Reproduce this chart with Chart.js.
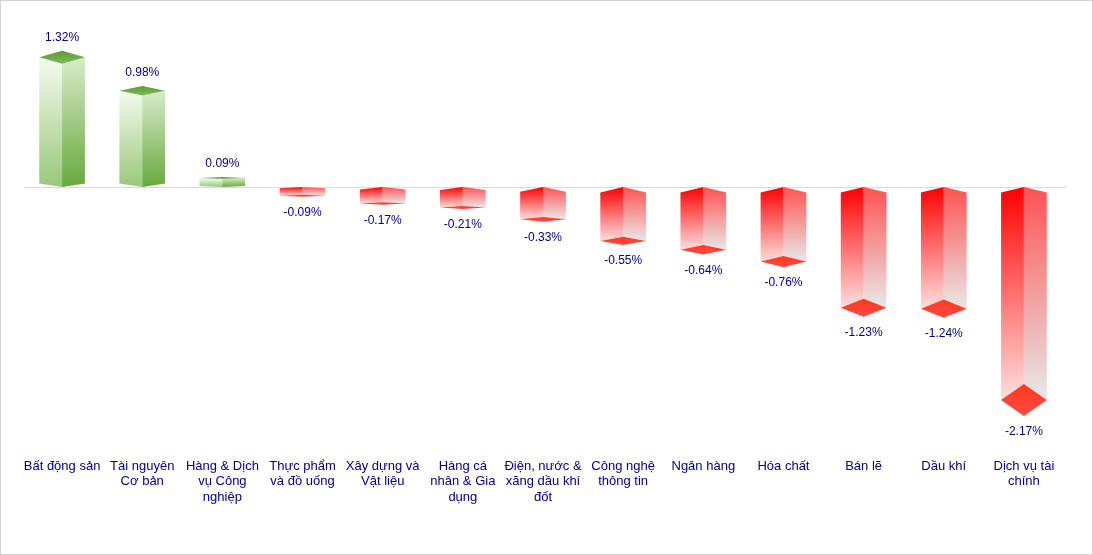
<!DOCTYPE html>
<html>
<head>
<meta charset="utf-8">
<script src="https://cdn.jsdelivr.net/npm/chart.js@4.4.0/dist/chart.umd.min.js"></script>
<style>
  body { margin: 0; background: #fff; }
  #wrap { width: 1093px; height: 555px; }
</style>
</head>
<body>
<div id="wrap"><canvas id="chart" width="1093" height="555"></canvas></div>
<script>
// sector names (multi-line as in the picture)
var categories = [
    'Bất động sản',
    ['Tài nguyên', 'Cơ bản'],
    ['Hàng & Dịch', 'vụ Công', 'nghiệp'],
    ['Thực phẩm', 'và đồ uống'],
    ['Xây dựng và', 'Vật liệu'],
    ['Hàng cá', 'nhân & Gia', 'dụng'],
    ['Điện, nước &', 'xăng dầu khí', 'đốt'],
    ['Công nghệ', 'thông tin'],
    'Ngân hàng',
    'Hóa chất',
    'Bán lẽ',
    'Dầu khí',
    ['Dịch vụ tài', 'chính']
];
// % change
var values = [1.32, 0.98, 0.09, -0.09, -0.17, -0.21, -0.33, -0.55, -0.64, -0.76, -1.23, -1.24, -2.17];

function poly(ctx, pts, fill) {
    ctx.beginPath();
    ctx.moveTo(pts[0][0], pts[0][1]);
    for (var i = 1; i < pts.length; i++) ctx.lineTo(pts[i][0], pts[i][1]);
    ctx.closePath();
    ctx.fillStyle = fill;
    ctx.fill();
}

function grad(ctx, y0, y1, c0, c1) {
    var g = ctx.createLinearGradient(0, y0, 0, y1);
    g.addColorStop(0, c0);
    g.addColorStop(1, c1);
    return g;
}

// draws the frame, the zero line and the 3d looking bars on top of the (invisible) library bars
var bars3d = {
    id: 'bars3d',
    beforeDraw: function(chart) {
        var ctx = chart.ctx;
        ctx.save();
        ctx.strokeStyle = '#d4d4d4';
        ctx.lineWidth = 1;
        ctx.strokeRect(0.5, 0.5, chart.width - 1, chart.height - 1);
        var y0 = Math.round(chart.scales.y.getPixelForValue(0)) + 0.5;
        ctx.strokeStyle = '#d9d9d9';
        ctx.beginPath();
        ctx.moveTo(chart.chartArea.left + 2, y0);
        ctx.lineTo(chart.chartArea.right + 2, y0);
        ctx.stroke();
        ctx.restore();
    },
    afterDatasetsDraw: function(chart) {
        var ctx = chart.ctx;
        var meta = chart.getDatasetMeta(0);
        ctx.save();
        meta.data.forEach(function(bar, i) {
            var v = values[i];
            var x0 = bar.x - bar.width / 2, x1 = bar.x + bar.width / 2, xc = bar.x;
            var zero = bar.base, end = bar.y;
            var hgt = Math.abs(zero - end);
            var label = v.toFixed(2) + '%';
            ctx.font = '12px "Liberation Sans", Arial, sans-serif';
            ctx.textAlign = 'center';
            ctx.textBaseline = 'middle';
            if (v >= 0) {
                var h = Math.max(1, 0.05 * hgt);
                var bo = Math.min(3.5, 0.1 * hgt);
                poly(ctx, [[x0, end], [xc, end + h], [xc, zero], [x0, zero - bo]],
                    grad(ctx, end, zero, '#f5faf0', '#98c879'));
                poly(ctx, [[xc, end + h], [x1, end], [x1, zero - bo], [xc, zero]],
                    grad(ctx, end, zero, '#d8ebc8', '#66a93e'));
                poly(ctx, [[x0, end], [xc, end - h], [x1, end], [xc, end + h]],
                    grad(ctx, end - h, end + h, '#5a9b33', '#80ba5c'));
                ctx.fillStyle = '#000080';
                ctx.fillText(label, xc, end - h - 13);
            } else {
                var h2 = Math.max(1, 0.075 * hgt);
                var bo2 = Math.min(5.5, 0.15 * hgt);
                poly(ctx, [[x0, zero + bo2], [xc, zero], [xc, end - h2], [x0, end]],
                    grad(ctx, zero, end, '#ff0000', '#ffdede'));
                poly(ctx, [[xc, zero], [x1, zero + bo2], [x1, end], [xc, end - h2]],
                    grad(ctx, zero, end, '#ff5252', '#e8e8e8'));
                poly(ctx, [[x0, end], [xc, end - h2], [x1, end], [xc, end + h2]],
                    grad(ctx, end - h2, end + h2, '#ff3a1c', '#ff4848'));
                ctx.fillStyle = '#000080';
                ctx.fillText(label, xc, end + h2 + 16);
            }
        });
        ctx.restore();
    }
};

var ctx = document.getElementById('chart').getContext('2d');
var chart = new Chart(ctx, {
    type: 'bar',
    data: {
        labels: categories,
        datasets: [{
            data: values,
            backgroundColor: 'rgba(0,0,0,0)',
            borderWidth: 0,
            barPercentage: 0.57,
            categoryPercentage: 1
        }]
    },
    options: {
        responsive: false,
        animation: false,
        devicePixelRatio: 1,
        layout: { padding: { top: 20, left: 22, right: 29, bottom: 34 } },
        plugins: {
            legend: { display: false },
            tooltip: { enabled: false }
        },
        scales: {
            x: {
                grid: { display: false, drawTicks: false },
                border: { display: false },
                ticks: {
                    color: '#000080',
                    font: { family: '"Liberation Sans", Arial, sans-serif', size: 13, lineHeight: 1.2 },
                    padding: 16,
                    maxRotation: 0,
                    autoSkip: false
                }
            },
            y: {
                display: false,
                min: -2.6,
                max: 1.7
            }
        }
    },
    plugins: [bars3d]
});
</script>
</body>
</html>
